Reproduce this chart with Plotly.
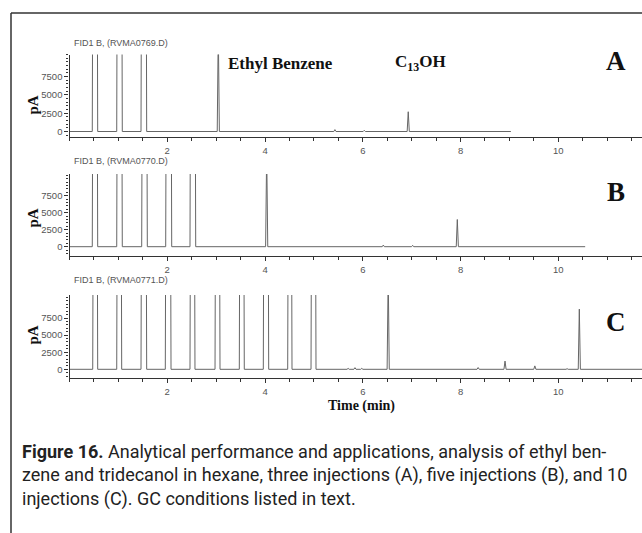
import plotly.graph_objects as go

W, H = 642, 533

# Time axis and labels
x_tick_vals = [2, 4, 6, 8, 10]
y_tick_vals = [0, 2500, 5000, 7500]
y_tick_text = ["0", "2500", "5000", "7500"]

# Off-scale solvent bands (start / end, min) for each run
A_inj_start = [0.466, 0.966, 1.463]
A_inj_end = [0.577, 1.080, 1.579]
B_inj_start = [0.466, 0.966, 1.477, 1.968, 2.465]
B_inj_end = [0.577, 1.080, 1.592, 2.091, 2.582]
C_inj_start = [0.475, 0.966, 1.463, 1.960, 2.465, 2.977, 3.474, 3.965, 4.464, 4.941]
C_inj_end = [0.577, 1.068, 1.579, 2.077, 2.567, 3.079, 3.576, 4.075, 4.552, 5.043]

# Resolved peaks: retention time (min) and height (pA)
A_peak_time = [3.044, 5.43, 6.03, 6.93]
A_peak_height = [14000, 260, 160, 2700]
B_peak_time = [3.345, 4.034, 6.42, 7.02, 7.934]
B_peak_height = [90, 14000, 240, 200, 4000]
C_peak_time = [5.70, 5.84, 5.98, 6.52, 8.36, 8.91, 9.52, 10.18, 10.43]
C_peak_height = [140, 240, 140, 14000, 260, 1200, 500, 90, 8800]

# Run end time (min)
A_run_end = 9.03
B_run_end = 10.55
C_run_end = 11.75

SOLVENT_LEVEL = 20000
run_names = ["FID1 B, (RVMA0769.D)", "FID1 B, (RVMA0770.D)", "FID1 B, (RVMA0771.D)"]
panel_letters = ["A", "B", "C"]


def build_trace(inj_start, inj_end, peak_time, peak_height, run_end, half_w=0.022):
    events = []
    for s, e in zip(inj_start, inj_end):
        events.append((s, [(s, 0), (s + 0.008, SOLVENT_LEVEL), (e - 0.008, SOLVENT_LEVEL), (e, 0)]))
    for t, h in zip(peak_time, peak_height):
        events.append((t, [(t - half_w, 0), (t, h), (t + half_w, 0)]))
    events.sort(key=lambda ev: ev[0])
    xs, ys = [0.0], [0]
    for _, pts in events:
        for px, py_ in pts:
            xs.append(px)
            ys.append(py_)
    xs.append(run_end)
    ys.append(0)
    return xs, ys


# Pixel geometry of the three stacked panels
px_left = 69.5
px_per_min = 48.88
x_max = (W - px_left) / px_per_min

panels = [
    dict(top=54.5, bottom=137.0, zero=131.5, per2500=18.3, name_y=43.3, pa_y=105, letter_y=61,
         data=(A_inj_start, A_inj_end, A_peak_time, A_peak_height, A_run_end)),
    dict(top=174.0, bottom=256.0, zero=246.7, per2500=17.0, name_y=160.7, pa_y=218, letter_y=192,
         data=(B_inj_start, B_inj_end, B_peak_time, B_peak_height, B_run_end)),
    dict(top=295.0, bottom=378.3, zero=369.3, per2500=17.1, name_y=280.0, pa_y=335, letter_y=322,
         data=(C_inj_start, C_inj_end, C_peak_time, C_peak_height, C_run_end)),
]

fig = go.Figure()
tick_font = dict(family="Liberation Sans, Arial, sans-serif", size=9.5, color="#555")
serif_bold = "Liberation Serif, Times New Roman, serif"


def py(v):
    return 1 - v / H


for i, p in enumerate(panels):
    n = "" if i == 0 else str(i + 1)
    xs, ys = build_trace(*p["data"])
    fig.add_trace(go.Scatter(
        x=xs, y=ys, mode="lines", xaxis="x" + n, yaxis="y" + n,
        line=dict(color="#666", width=1), showlegend=False, hoverinfo="skip",
    ))
    y_lo = -(p["bottom"] - p["zero"]) / p["per2500"] * 2500
    y_hi = (p["zero"] - p["top"]) / p["per2500"] * 2500
    fig.update_layout({
        "xaxis" + n: dict(
            domain=[px_left / W, 1], range=[0, x_max], anchor="y" + n,
            showline=True, linecolor="#333", linewidth=1.3, mirror=False,
            ticks="outside", tickvals=x_tick_vals, ticklen=4, tickcolor="#333",
            tickwidth=1, tickfont=tick_font, showgrid=False, zeroline=False,
            minor=dict(dtick=0.5, tick0=0, ticks="outside", ticklen=3,
                       tickcolor="#333", showgrid=False),
        ),
        "yaxis" + n: dict(
            domain=[py(p["bottom"]), py(p["top"])], range=[y_lo, y_hi], anchor="x" + n,
            showline=True, linecolor="#333", linewidth=1.3,
            ticks="outside", tickvals=y_tick_vals, ticktext=y_tick_text,
            ticklen=4, tickcolor="#333", tickwidth=1, tickfont=tick_font,
            showgrid=False, zeroline=False,
            minor=dict(dtick=500, tick0=0, ticks="outside", ticklen=2,
                       tickcolor="#333", showgrid=False),
        ),
    })
    # run file name above each panel
    fig.add_annotation(
        x=72 / W, y=py(p["name_y"]), xref="paper", yref="paper",
        text=run_names[i], showarrow=False, xanchor="left", yanchor="middle",
        font=dict(family="Liberation Sans, Arial, sans-serif", size=9, color="#555"),
    )
    # y-axis title
    fig.add_annotation(
        x=32.5 / W, y=py(p["pa_y"]), xref="paper", yref="paper",
        text="<b>pA</b>", showarrow=False, textangle=-90,
        xanchor="center", yanchor="middle",
        font=dict(family=serif_bold, size=15, color="#111"),
    )
    # panel letter
    fig.add_annotation(
        x=615.5 / W, y=py(p["letter_y"]), xref="paper", yref="paper",
        text="<b>" + panel_letters[i] + "</b>", showarrow=False,
        xanchor="center", yanchor="middle",
        font=dict(family=serif_bold, size=27, color="#111"),
    )

# compound labels on the first run
fig.add_annotation(x=226 / W, y=py(63), xref="paper", yref="paper",
                   text="<b>Ethyl Benzene</b>", showarrow=False,
                   xanchor="left", yanchor="middle",
                   font=dict(family=serif_bold, size=17, color="#111"))
fig.add_annotation(x=420 / W, y=py(63), xref="paper", yref="paper",
                   text="<b>C<sub>13</sub>OH</b>", showarrow=False,
                   xanchor="center", yanchor="middle",
                   font=dict(family=serif_bold, size=17, color="#111"))

# shared time-axis title
fig.add_annotation(x=361.5 / W, y=py(406), xref="paper", yref="paper",
                   text="<b>Time (min)</b>", showarrow=False,
                   xanchor="center", yanchor="middle",
                   font=dict(family=serif_bold, size=14, color="#111"))

# figure caption
caption = ("<b>Figure 16.</b> Analytical performance and applications, analysis of ethyl ben-<br>"
           "zene and tridecanol in hexane, three injections (A), five injections (B), and 10<br>"
           "injections (C). GC conditions listed in text.")
fig.add_annotation(x=20 / W, y=py(439), xref="paper", yref="paper",
                   text=caption, showarrow=False, xanchor="left", yanchor="top",
                   align="left",
                   font=dict(family="Roboto, Liberation Sans, sans-serif",
                             size=18, color="#222"))

# outer frame: top rule and left rule
fig.add_shape(type="line", xref="paper", yref="paper",
              x0=11 / W, x1=1, y0=py(13), y1=py(13),
              line=dict(color="#333", width=1.5))
fig.add_shape(type="line", xref="paper", yref="paper",
              x0=11 / W, x1=11 / W, y0=0, y1=py(13),
              line=dict(color="#333", width=1.5))

fig.update_layout(
    width=W, height=H, margin=dict(l=0, r=0, t=0, b=0),
    paper_bgcolor="white", plot_bgcolor="white", showlegend=False,
)

fig.write_html("out.html")
